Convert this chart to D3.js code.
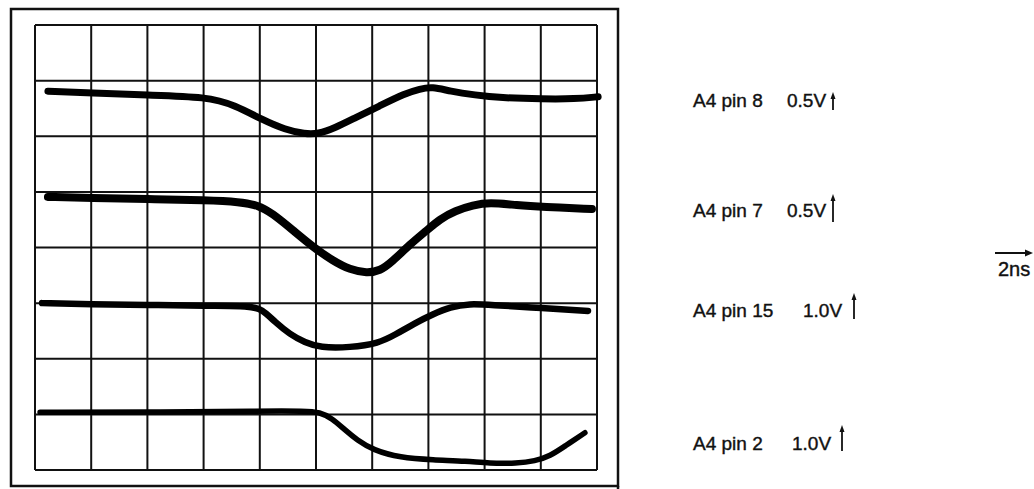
<!DOCTYPE html>
<html lang="en">
<head>
    <meta charset="UTF-8">
    <title>A4 pin waveforms</title>
    <script src="https://d3js.org/d3.v7.min.js"></script>
    <style>
        body {
            margin: 0;
            background: #fff;
        }

        .grid line {
            stroke: #111;
            stroke-width: 2px;
        }

        .trace {
            fill: none;
            stroke: #000;
            stroke-linecap: round;
            stroke-linejoin: round;
        }

        .label {
            font: 19px "Liberation Sans", Arial, sans-serif;
            fill: #111;
            stroke: #111;
            stroke-width: 0.4px;
        }
    </style>
</head>
<body>
    <div id="chart"></div>

    <script>
        // time in ns (2 ns / div), level in divisions above the bottom graticule line
        const divsX = 10;
        const divsY = 8;
        const nsPerDiv = 2;

        const pin8Time = [0.46, 1.99, 3.99, 6.12, 7.12, 8.11, 8.9, 9.61, 10.07, 10.68, 11.39, 12.24, 13.17, 13.7, 14.13, 14.77, 15.66, 16.55, 18.08, 19.22, 20.04];
        const pin8Level = [6.81, 6.78, 6.74, 6.71, 6.56, 6.29, 6.12, 6.04, 6.04, 6.15, 6.33, 6.54, 6.77, 6.85, 6.89, 6.81, 6.74, 6.69, 6.67, 6.67, 6.71];

        const pin7Time = [0.46, 1.99, 3.99, 6.12, 7.29, 7.94, 8.43, 9.18, 9.89, 10.6, 11.21, 11.81, 12.28, 12.7, 13.35, 13.95, 14.41, 14.95, 15.59, 16.16, 17.15, 18.08, 19.82];
        const pin7Level = [4.91, 4.89, 4.87, 4.85, 4.82, 4.76, 4.62, 4.31, 4.01, 3.76, 3.6, 3.54, 3.58, 3.74, 4.06, 4.31, 4.51, 4.66, 4.76, 4.81, 4.76, 4.73, 4.69];

        const pin15Time = [0.25, 1.99, 3.99, 6.12, 7.65, 8.08, 8.54, 9.07, 9.61, 10.14, 11.21, 12.24, 12.81, 13.52, 14.16, 14.77, 15.48, 16.16, 18.08, 19.68];
        const pin15Level = [3.0, 2.98, 2.97, 2.95, 2.95, 2.89, 2.66, 2.44, 2.29, 2.2, 2.2, 2.28, 2.43, 2.64, 2.8, 2.93, 2.99, 2.97, 2.91, 2.86];

        const pin2Time = [0.18, 3.99, 8.11, 9.61, 10.14, 10.57, 11.03, 11.46, 12.03, 12.99, 14.16, 15.37, 16.16, 17.15, 17.79, 18.33, 18.86, 19.57];
        const pin2Level = [1.04, 1.04, 1.06, 1.06, 1.04, 0.93, 0.72, 0.54, 0.36, 0.22, 0.18, 0.16, 0.12, 0.12, 0.16, 0.25, 0.43, 0.67];

        const pinNames = ["A4 pin 8", "A4 pin 7", "A4 pin 15", "A4 pin 2"];
        const pinScales = ["0.5V", "0.5V", "1.0V", "1.0V"];
        const timeBaseLabel = "2ns";

        const width = 1034;
        const height = 489;

        const svg = d3.select("#chart")
            .append("svg")
            .attr("width", width)
            .attr("height", height);

        const x = d3.scaleLinear().domain([0, divsX * nsPerDiv]).range([35, 597]);
        const y = d3.scaleLinear().domain([0, divsY]).range([470, 25]);

        // outer frame of the photo
        svg.append("rect")
            .attr("x", 11)
            .attr("y", 9)
            .attr("width", 607)
            .attr("height", 477)
            .attr("fill", "none")
            .attr("stroke", "#111")
            .attr("stroke-width", 2.5);

        // right frame edge runs off the bottom
        svg.append("line")
            .attr("x1", 618).attr("x2", 618)
            .attr("y1", 486).attr("y2", height)
            .attr("stroke", "#111")
            .attr("stroke-width", 2.5);

        // graticule
        const grid = svg.append("g").attr("class", "grid");

        grid.selectAll(".v")
            .data(d3.range(divsX + 1).map(d => d * nsPerDiv))
            .enter()
            .append("line")
            .attr("x1", d => x(d))
            .attr("x2", d => x(d))
            .attr("y1", y(divsY))
            .attr("y2", y(0));

        grid.selectAll(".h")
            .data(d3.range(divsY + 1))
            .enter()
            .append("line")
            .attr("x1", x(0))
            .attr("x2", x(divsX * nsPerDiv))
            .attr("y1", d => y(d))
            .attr("y2", d => y(d));

        const traces = [
            { t: pin8Time, v: pin8Level, w: 7 },
            { t: pin7Time, v: pin7Level, w: 8 },
            { t: pin15Time, v: pin15Level, w: 6.5 },
            { t: pin2Time, v: pin2Level, w: 5.5 }
        ];

        const line = d3.line()
            .x(d => x(d[0]))
            .y(d => y(d[1]))
            .curve(d3.curveBasis);

        svg.selectAll(".trace")
            .data(traces)
            .enter()
            .append("path")
            .attr("class", "trace")
            .attr("stroke-width", d => d.w)
            .attr("d", d => line(d.t.map((t, i) => [t, d.v[i]])));

        // labels with their small up arrows
        const labelPos = [
            { y: 107, vx: 787, ax: 833, top: 92, bottom: 110 },
            { y: 217, vx: 787, ax: 833, top: 194, bottom: 222 },
            { y: 317, vx: 803, ax: 854, top: 293, bottom: 319 },
            { y: 450, vx: 792, ax: 842, top: 425, bottom: 451 }
        ];

        labelPos.forEach((p, i) => {
            svg.append("text")
                .attr("class", "label")
                .attr("x", 693)
                .attr("y", p.y)
                .text(pinNames[i]);

            svg.append("text")
                .attr("class", "label")
                .attr("x", p.vx)
                .attr("y", p.y)
                .text(pinScales[i]);

            svg.append("line")
                .attr("x1", p.ax).attr("x2", p.ax)
                .attr("y1", p.top + 3).attr("y2", p.bottom)
                .attr("stroke", "#111")
                .attr("stroke-width", 1.8);

            svg.append("path")
                .attr("d", `M${p.ax - 2.5},${p.top + 7}L${p.ax},${p.top}L${p.ax + 2.5},${p.top + 7}Z`)
                .attr("fill", "#111");
        });

        // time base marker
        svg.append("line")
            .attr("x1", 995).attr("x2", 1027)
            .attr("y1", 253).attr("y2", 253)
            .attr("stroke", "#111")
            .attr("stroke-width", 2);

        svg.append("path")
            .attr("d", "M1025,249.5L1033,253L1025,256.5Z")
            .attr("fill", "#111");

        svg.append("text")
            .attr("class", "label")
            .attr("x", 998)
            .attr("y", 276)
            .style("font-size", "20px")
            .text(timeBaseLabel);
    </script>
</body>
</html>
